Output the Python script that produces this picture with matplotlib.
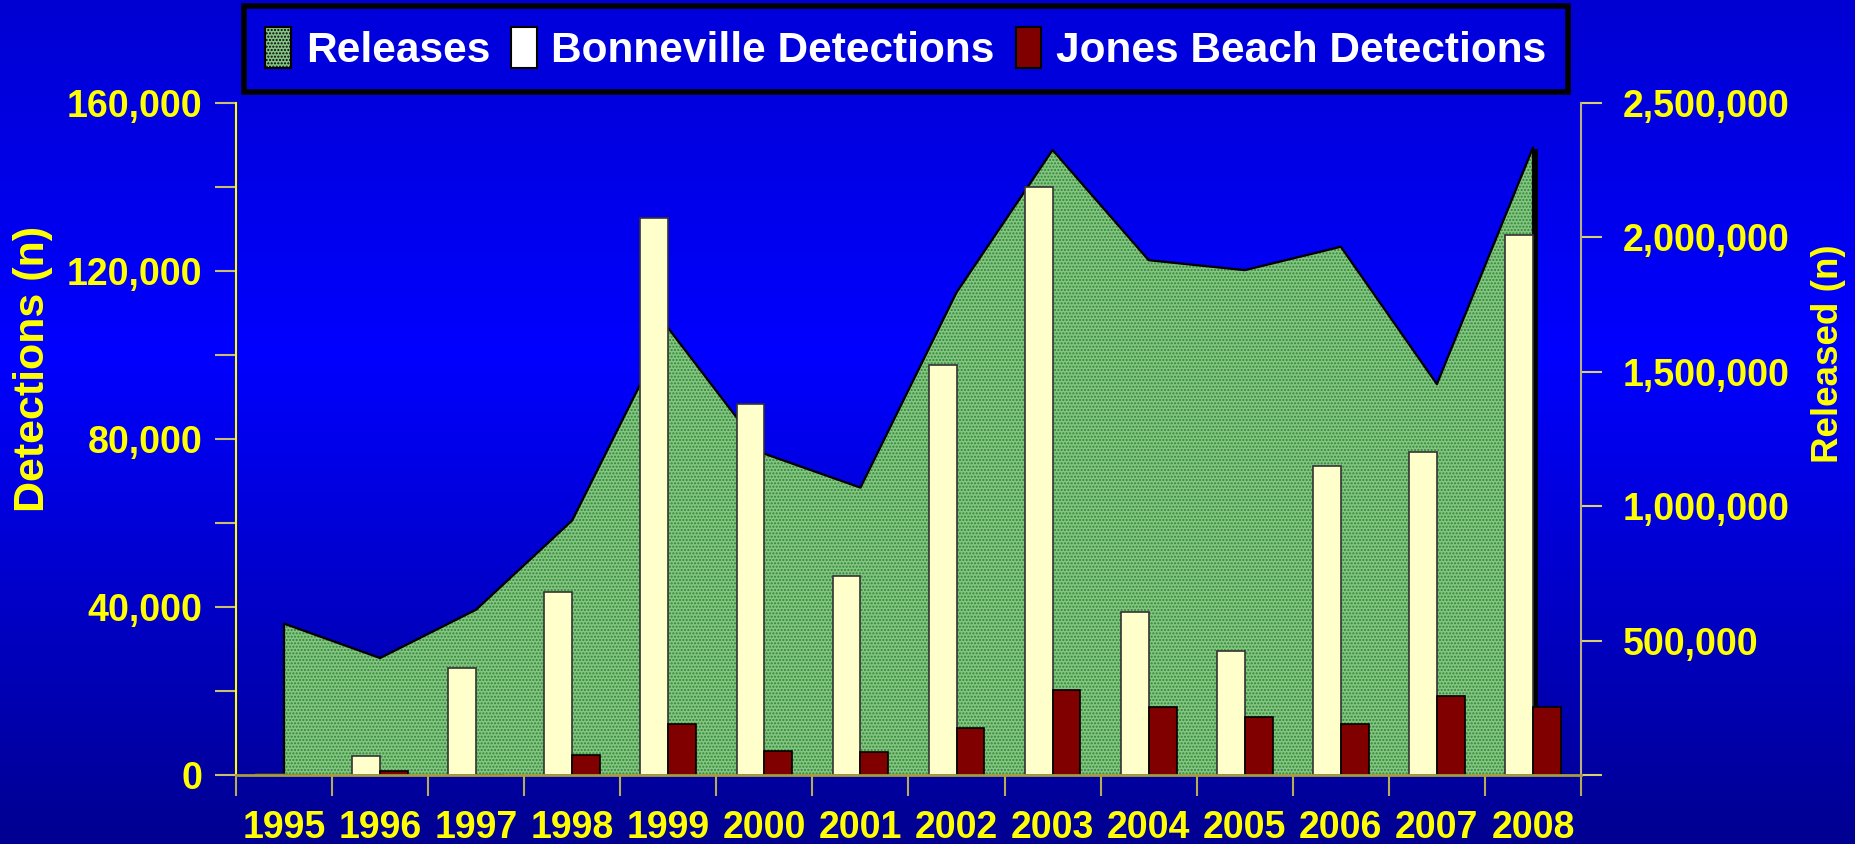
import numpy as np
import matplotlib
matplotlib.use("Agg")
import matplotlib.pyplot as plt
from matplotlib.patches import Patch
from matplotlib.colors import LinearSegmentedColormap
from matplotlib.ticker import FuncFormatter

# data
years = ['1995', '1996', '1997', '1998', '1999', '2000', '2001',
         '2002', '2003', '2004', '2005', '2006', '2007', '2008']
releases = [563000, 435000, 615000, 947000, 1662000, 1195000, 1069000,
            1795000, 2325000, 1915000, 1878000, 1965000, 1454000, 2334000]
bonneville = [300, 4400, 25500, 43600, 132500, 88300, 47400,
              97600, 140100, 38700, 29600, 73600, 76900, 128600]
jones_beach = [0, 850, 0, 4700, 12100, 5700, 5400,
               11200, 20300, 16300, 13700, 12200, 18900, 16300]

FONT = 'Liberation Sans'
YEL = '#ffff00'
GREEN = '#86c386'
GREEN_DOTS = '#2b8a2b'

fig = plt.figure(figsize=(18.55, 8.44), dpi=100)

# blue gradient background
bg = fig.add_axes([0, 0, 1, 1], zorder=-10)
cmap = LinearSegmentedColormap.from_list(
    'bg', [(0.0, (0, 0, 210/255)), (0.42, (0, 0, 1.0)), (1.0, (0, 0, 145/255))])
bg.imshow(np.linspace(0, 1, 256).reshape(-1, 1), aspect='auto', cmap=cmap,
          extent=[0, 1, 0, 1])
bg.axis('off')

ax = fig.add_axes([0.1272, 0.0818, 0.7251, 0.7962])
ax2 = ax.twinx()
ax.set_zorder(ax2.get_zorder() + 1)
ax.patch.set_visible(False)
ax2.patch.set_visible(False)

x = np.arange(len(years))

# releases area on the right axis
ax2.fill_between(x, 0, releases, facecolor=GREEN, edgecolor=GREEN_DOTS,
                 hatch='.....', linewidth=0)
ax2.plot(np.r_[x[0], x, x[-1]], np.r_[0, releases, 0], color='black', lw=1.6)
ax2.plot([x[-1] + 0.025, x[-1] + 0.025], [0, releases[-1] * 0.995], color='black', lw=3.5)
ax2.set_ylim(0, 2500000)
ax2.set_yticks(np.arange(0, 2500001, 500000))
ax2.yaxis.set_major_formatter(FuncFormatter(lambda v, p: '' if v == 0 else f'{int(v):,}'))

# detection bars on the left axis
bw = 0.29
ax.bar(x - bw / 2, bonneville, bw, color='#ffffcc', edgecolor='#333333', linewidth=1.2)
ax.bar(x + bw / 2, jones_beach, bw, color='#800000', edgecolor='black', linewidth=1.2)
ax.set_xlim(-0.5, len(years) - 0.5)
ax.set_ylim(0, 160000)
ax2.set_xlim(-0.5, len(years) - 0.5)

ax.set_yticks(np.arange(0, 160001, 20000))
ax.set_yticklabels([f'{v:,}' if v % 40000 == 0 else '' for v in range(0, 160001, 20000)])
ax.set_xticks(x)
ax.set_xticklabels(years)
ax.set_xticks(np.arange(-0.5, len(years), 1), minor=True)

for lab in ax.get_yticklabels() + ax.get_xticklabels() + ax2.get_yticklabels():
    lab.set_family(FONT)
    lab.set_weight('bold')
    lab.set_size(27)
    lab.set_color(YEL)

ax.tick_params(axis='y', direction='out', length=15, width=1.5, color='#c8c070', pad=9)
ax.tick_params(axis='x', which='major', length=0, pad=25)
ax.tick_params(axis='x', which='minor', direction='out', length=15, width=1.5, color='#b8ac50')
ax2.tick_params(axis='y', direction='out', length=15, width=1.5, color='#d8d070', pad=15)

ax.spines['top'].set_visible(False)
ax2.spines['top'].set_visible(False)
ax.spines['right'].set_visible(False)
ax.spines['left'].set_color(YEL)
ax.spines['left'].set_linewidth(1.5)
ax.spines['bottom'].set_color('#a89c40')
ax.spines['bottom'].set_linewidth(2)
ax2.spines['left'].set_visible(False)
ax2.spines['bottom'].set_visible(False)
ax2.spines['right'].set_color('#b8b080')
ax2.spines['right'].set_linewidth(1.5)

fig.text(33 / 1855, 1 - 369 / 844, 'Detections (n)', rotation=90, color=YEL,
         family=FONT, weight='bold', size=31, ha='center', va='center')
fig.text(1828 / 1855, 1 - 354 / 844, 'Released (n)', rotation=90, color=YEL,
         family=FONT, weight='bold', size=26.5, ha='center', va='center')

handles = [Patch(facecolor=GREEN, edgecolor='black', hatch='.....', linewidth=1.5),
           Patch(facecolor='white', edgecolor='black', linewidth=1.5),
           Patch(facecolor='#800000', edgecolor='black', linewidth=1.5)]
leg = fig.legend(handles, ['Releases', 'Bonneville Detections', 'Jones Beach Detections'],
                 loc='upper center', bbox_to_anchor=(906 / 1855, 1 - 6 / 844), ncol=3,
                 prop=dict(family=FONT, weight='bold', size=30.5), labelcolor='white',
                 handlelength=0.6, handleheight=1.1, handletextpad=0.35,
                 columnspacing=0.5, borderpad=0.5, borderaxespad=0,
                 frameon=True, fancybox=False,
                 facecolor='#0000dd', edgecolor='black', framealpha=1)
leg.get_frame().set_linewidth(4)

fig.savefig('out.png', dpi=100)
